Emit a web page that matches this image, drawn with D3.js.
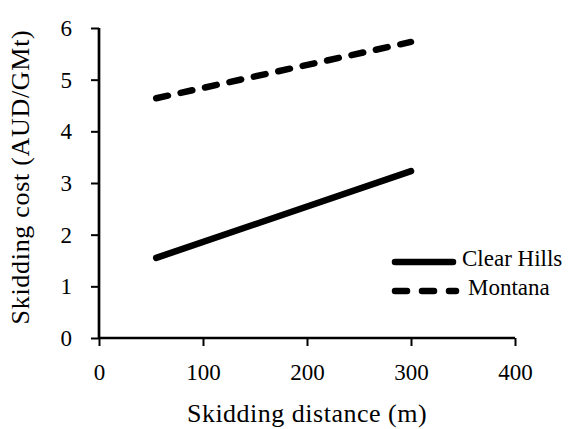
<!DOCTYPE html>
<html>
<head>
<meta charset="utf-8">
<script src="https://cdn.jsdelivr.net/npm/d3@7"></script>
<style>
  body { margin: 0; background: #fff; }
  text { font-family: "Liberation Serif", "DejaVu Serif", serif; fill: #000; }
</style>
</head>
<body>
<svg id="chart" width="568" height="429"></svg>
<script>
// data
const distances = [55, 300];
const clearHills = [1.55, 3.23];
const montana = [4.64, 5.73];
const xTicks = [0, 100, 200, 300, 400];
const yTicks = [0, 1, 2, 3, 4, 5, 6];

const svg = d3.select("#chart");
const margin = { left: 99, top: 28, right: 53, bottom: 91 };
const width = 568 - margin.left - margin.right;
const height = 429 - margin.top - margin.bottom;

const x = d3.scaleLinear().domain([0, 400]).range([0, width]);
const y = d3.scaleLinear().domain([0, 6]).range([height, 0]);

const g = svg.append("g").attr("transform", `translate(${margin.left},${margin.top})`);

// axes
const yAxis = g.append("g")
  .call(d3.axisLeft(y).tickValues(yTicks).tickFormat(d3.format("d")).tickSize(8).tickPadding(19));
const xAxis = g.append("g")
  .attr("transform", `translate(0,${height})`)
  .call(d3.axisBottom(x).tickValues(xTicks).tickFormat(d3.format("d")).tickSize(8).tickPadding(18));

[xAxis, yAxis].forEach((a) => {
  a.selectAll("path").attr("stroke", "#000").attr("stroke-width", 2.7);
  a.selectAll("line").attr("stroke", "#000").attr("stroke-width", 2);
  a.selectAll("text").attr("font-size", 23).attr("fill", "#000")
    .style("font-family", "'Liberation Serif', serif");
});
yAxis.select("path").attr("d", `M0,${height}V0`);
xAxis.select("path").attr("d", `M0,0H${width}`);

const series = [
  { name: "Clear Hills", values: clearHills, dash: null, legendDash: null, labelX: 462 },
  { name: "Montana", values: montana, dash: "12,13", legendDash: "12,15", labelX: 468 }
];

const line = d3.line()
  .x((d) => x(d[0]))
  .y((d) => y(d[1]));

series.forEach((s) => {
  g.append("path")
    .datum(distances.map((d, i) => [d, s.values[i]]))
    .attr("d", line)
    .attr("fill", "none")
    .attr("stroke", "#000")
    .attr("stroke-width", 6.5)
    .attr("stroke-linecap", "round")
    .attr("stroke-dasharray", s.dash);
});

// legend
const legend = svg.append("g");
series.forEach((s, i) => {
  const ly = 262 + i * 29;
  legend.append("line")
    .attr("x1", 395).attr("x2", i === 0 ? 453 : 456)
    .attr("y1", ly).attr("y2", ly)
    .attr("stroke", "#000")
    .attr("stroke-width", 6.5)
    .attr("stroke-linecap", "round")
    .attr("stroke-dasharray", s.legendDash);
  legend.append("text")
    .attr("x", s.labelX)
    .attr("y", ly + 4)
    .attr("font-size", 23)
    .text(s.name);
});

// axis titles
svg.append("text")
  .attr("x", margin.left + x(200))
  .attr("y", 422)
  .attr("text-anchor", "middle")
  .attr("font-size", 26)
  .attr("letter-spacing", 0.5)
  .text("Skidding distance (m)");

svg.append("text")
  .attr("transform", `translate(29,177) rotate(-90)`)
  .attr("text-anchor", "middle")
  .attr("font-size", 26)
  .attr("letter-spacing", 0.7)
  .text("Skidding cost (AUD/GMt)");
</script>
</body>
</html>
